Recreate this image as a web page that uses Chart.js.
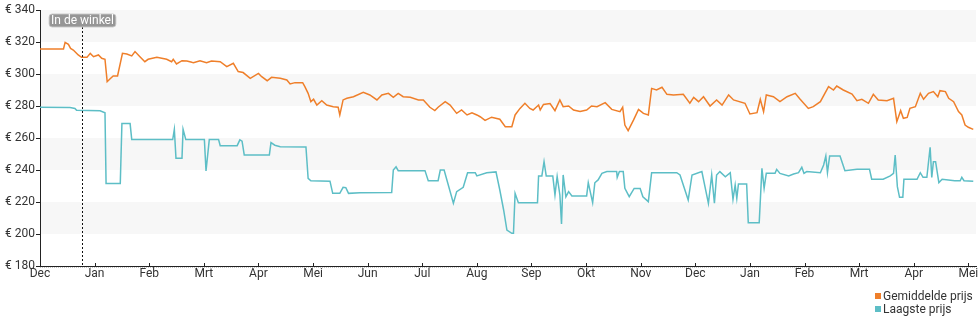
<!DOCTYPE html>
<html lang="nl">
<head>
<meta charset="utf-8">
<title>Prijsverloop</title>
<script src="https://cdn.jsdelivr.net/npm/chart.js@4.4.1/dist/chart.umd.min.js"></script>
<style>
  html, body { margin: 0; padding: 0; background: #ffffff; }
  #wrap { position: relative; width: 980px; height: 325px; font-family: Roboto, "Noto Sans", sans-serif; }
  #legend { position: absolute; left: 875px; top: 290px; font-size: 12px; color: #333; line-height: 13px; }
  #legend div { white-space: nowrap; }
  #legend span.sw { display: inline-block; width: 6px; height: 6px; margin-right: 2px; vertical-align: 1px; }
</style>
</head>
<body>
<div id="wrap">
  <canvas id="chart"></canvas>
  <div id="legend"></div>
</div>
<script>
// Month ticks along the x axis (one unit per month, starting at December)
const monthLabels = ['Dec','Jan','Feb','Mrt','Apr','Mei','Jun','Jul','Aug','Sep','Okt','Nov','Dec','Jan','Feb','Mrt','Apr','Mei'];

// Y axis range and step in euros
const priceMin = 180;
const priceMax = 340;
const priceStep = 20;

// Marker for the in-store launch date (fraction of months since December)
const storeMonth = 0.775;
const storeLabel = 'In de winkel';

// Average price (Gemiddelde prijs): position in months, price in euros
const avgMonth = [0.00,0.43,0.46,0.52,0.56,0.61,0.70,0.76,0.86,0.92,0.98,1.07,1.13,1.19,1.23,1.28,1.34,1.42,1.51,1.59,
  1.68,1.74,1.83,1.92,1.98,2.14,2.32,2.41,2.44,2.50,2.60,2.69,2.78,2.81,2.93,3.05,3.14,3.30,3.42,3.54,
  3.63,3.72,3.85,4.00,4.06,4.16,4.24,4.40,4.52,4.58,4.67,4.81,4.85,4.91,4.96,5.01,5.07,5.16,5.25,5.37,
  5.46,5.49,5.55,5.62,5.74,5.92,6.04,6.17,6.26,6.38,6.47,6.56,6.65,6.78,6.93,7.02,7.14,7.23,7.29,7.42,
  7.51,7.63,7.72,7.82,7.91,8.00,8.06,8.15,8.27,8.42,8.52,8.64,8.70,8.79,8.88,8.97,9.03,9.13,9.16,9.22,
  9.34,9.43,9.52,9.58,9.68,9.77,9.89,10.01,10.10,10.20,10.35,10.47,10.62,10.67,10.71,10.77,10.87,10.96,11.05,11.14,
  11.20,11.29,11.39,11.48,11.60,11.78,11.90,11.97,12.06,12.15,12.27,12.39,12.49,12.61,12.70,12.91,13.00,13.13,13.19,13.25,
  13.30,13.43,13.55,13.68,13.83,13.92,14.07,14.16,14.29,14.44,14.53,14.59,14.71,14.87,14.96,15.05,15.17,15.26,15.35,15.51,
  15.63,15.69,15.76,15.81,15.88,15.93,16.03,16.12,16.18,16.27,16.36,16.44,16.48,16.58,16.64,16.73,16.82,16.88,16.94,17.00,17.09];
const avgPrice = [315.6,315.6,319.8,318.5,316.0,315.0,311.9,310.4,310.4,312.9,310.8,311.9,309.8,309.2,295.2,296.9,298.8,298.8,312.9,312.5,
  311.3,314.0,310.8,307.7,309.2,310.4,309.2,307.7,309.2,306.3,308.3,308.1,307.3,307.1,308.3,307.1,308.1,307.7,304.6,306.7,
  301.5,300.9,297.3,300.4,298.3,295.8,297.9,297.3,296.3,293.8,294.6,294.6,292.1,287.9,282.7,284.2,280.6,283.3,280.6,279.6,
  279.2,274.4,283.8,284.8,285.8,288.5,286.9,283.8,286.9,287.9,285.4,287.9,285.8,285.4,283.8,283.8,279.2,277.1,279.2,282.7,
  280.6,275.4,277.5,274.4,275.8,274.4,273.3,271.0,273.0,271.7,267.1,267.1,274.4,278.5,281.7,278.5,277.5,280.6,277.5,281.0,
  281.5,277.1,283.8,279.6,280.0,277.5,276.5,277.5,280.0,279.6,282.1,277.9,276.5,279.2,268.1,264.6,271.3,277.9,275.4,274.4,
  291.0,290.0,291.7,287.3,286.9,287.3,281.7,285.4,282.7,285.8,280.0,283.8,280.6,286.9,283.8,281.7,275.0,275.8,284.2,276.5,
  286.9,285.8,282.7,285.8,287.9,284.2,278.5,279.6,282.7,292.1,290.0,292.5,290.0,287.5,283.3,284.2,281.7,287.3,283.8,283.3,
  284.8,270.2,277.1,272.3,272.9,278.5,279.6,287.9,284.2,287.9,289.0,285.8,289.6,289.0,284.8,282.7,276.5,274.4,268.1,266.7,265.4];

// Lowest price (Laagste prijs): position in months, price in euros
const lowMonth = [0.00,0.55,0.64,0.67,1.10,1.19,1.21,1.47,1.50,1.65,1.68,2.43,2.46,2.49,2.60,2.62,2.67,3.01,3.04,3.10,
  3.27,3.30,3.61,3.66,3.70,3.74,4.20,4.23,4.30,4.40,4.87,4.91,4.96,5.31,5.36,5.49,5.55,5.60,5.65,5.86,
  6.44,6.47,6.52,6.56,7.05,7.11,7.29,7.33,7.40,7.57,7.63,7.75,7.83,7.97,8.00,8.18,8.35,8.42,8.49,8.55,
  8.64,8.67,8.70,8.76,9.11,9.13,9.19,9.23,9.27,9.39,9.43,9.47,9.52,9.55,9.58,9.63,9.68,9.74,10.01,10.04,
  10.12,10.16,10.22,10.29,10.38,10.56,10.57,10.61,10.68,10.71,10.79,10.88,10.99,11.04,11.14,11.20,11.66,11.72,11.87,11.94,
  12.12,12.24,12.30,12.35,12.39,12.45,12.55,12.64,12.69,12.73,12.76,12.79,12.94,12.97,13.17,13.22,13.26,13.30,13.46,13.49,
  13.55,13.71,13.80,13.89,13.95,13.99,14.04,14.29,14.35,14.39,14.42,14.46,14.65,14.74,14.96,15.19,15.23,15.44,15.57,15.63,
  15.66,15.70,15.74,15.80,15.82,16.06,16.12,16.17,16.24,16.30,16.33,16.36,16.40,16.46,16.52,16.75,16.85,16.88,16.92,17.09];
const lowPrice = [279.2,279.0,278.5,277.3,277.0,275.8,231.5,231.5,269.0,269.0,259.0,259.0,265.4,247.3,247.3,265.4,259.0,259.0,239.4,259.0,
  259.0,255.2,255.2,258.8,258.0,249.4,249.4,257.1,255.5,254.6,254.4,234.8,233.3,233.0,225.4,225.4,229.2,229.0,225.4,225.8,
  226.0,240.0,242.0,239.6,239.6,233.3,233.3,240.0,240.0,219.2,226.5,229.2,238.3,238.3,236.3,238.3,238.8,227.5,215.0,202.5,
  200.4,200.4,225.4,219.6,219.6,236.3,236.3,245.2,236.3,236.3,224.4,236.0,224.4,206.3,236.9,223.3,226.5,223.8,223.8,232.1,
  219.6,232.0,233.8,237.9,239.0,239.0,235.4,239.0,239.0,228.5,223.3,228.5,228.5,223.3,220.2,238.3,238.3,236.9,221.3,236.9,
  239.0,219.2,236.9,219.2,236.9,239.0,235.8,238.3,221.7,230.6,222.3,231.3,231.3,207.1,207.1,241.0,228.5,237.9,237.9,240.4,
  237.9,236.3,237.5,238.3,241.7,237.9,239.0,238.3,243.1,248.8,238.3,248.8,248.8,239.6,240.4,240.4,234.2,234.2,236.3,237.9,
  249.4,229.6,222.9,222.9,234.2,234.2,238.3,235.4,235.4,254.2,235.4,245.2,245.2,232.1,234.2,233.3,233.3,235.4,233.3,232.9];

const seriesNames = ['Gemiddelde prijs', 'Laagste prijs'];
const seriesColors = ['#ef7f2a', '#5dbec6'];

const toPoints = (xs, ys) => xs.map((x, i) => ({ x: x, y: ys[i] }));

// Alternating horizontal bands behind the plot, one per y tick interval
const bandPlugin = {
  id: 'bands',
  beforeDraw(chart) {
    const { ctx, chartArea, scales } = chart;
    const y = scales.y;
    ctx.save();
    ctx.fillStyle = '#f7f7f7';
    for (let v = priceMin; v < priceMax; v += priceStep) {
      if (((v - priceMin) / priceStep) % 2 === 1) {
        const top = y.getPixelForValue(v + priceStep);
        const bottom = y.getPixelForValue(v);
        ctx.fillRect(chartArea.left, top, chartArea.right - chartArea.left, bottom - top);
      }
    }
    ctx.restore();
  }
};

// Upward month tick marks, a dotted rule under the axis and the store marker
const overlayPlugin = {
  id: 'overlay',
  afterDatasetsDraw(chart) {
    const { ctx, chartArea, scales } = chart;
    const x = scales.x;
    const axisY = chartArea.bottom;
    ctx.save();

    ctx.strokeStyle = '#222';
    ctx.lineWidth = 1;
    monthLabels.forEach((_, i) => {
      const px = Math.round(x.getPixelForValue(i)) + 0.5;
      ctx.beginPath();
      ctx.moveTo(px, axisY - 3);
      ctx.lineTo(px, axisY + 1);
      ctx.stroke();
    });

    ctx.strokeStyle = '#c4c4c4';
    ctx.setLineDash([1, 1]);
    ctx.beginPath();
    ctx.moveTo(chartArea.left, axisY + 1.5);
    ctx.lineTo(chartArea.right, axisY + 1.5);
    ctx.stroke();

    // store marker line
    const sx = Math.round(x.getPixelForValue(storeMonth)) + 0.5;
    ctx.strokeStyle = '#111';
    ctx.setLineDash([2, 2]);
    ctx.beginPath();
    ctx.moveTo(sx, chartArea.top + 17);
    ctx.lineTo(sx, axisY);
    ctx.stroke();
    ctx.setLineDash([]);

    // label box
    ctx.font = '12px Roboto, "Noto Sans", sans-serif';
    const tw = ctx.measureText(storeLabel).width;
    const bw = tw + 4;
    const bh = 13;
    const bx = sx - bw / 2;
    const by = chartArea.top + 4;
    ctx.fillStyle = 'rgba(125,125,125,0.8)';
    ctx.strokeStyle = 'rgba(200,200,200,0.9)';
    ctx.lineWidth = 1;
    ctx.beginPath();
    if (ctx.roundRect) { ctx.roundRect(bx, by, bw, bh, 3); } else { ctx.rect(bx, by, bw, bh); }
    ctx.fill();
    ctx.stroke();
    ctx.fillStyle = '#ffffff';
    ctx.textBaseline = 'middle';
    ctx.textAlign = 'center';
    ctx.fillText(storeLabel, sx, by + bh / 2 + 0.5);
    ctx.restore();
  }
};

const chart = new Chart(document.getElementById('chart'), {
  type: 'line',
  data: {
    datasets: [
      { label: seriesNames[0], data: toPoints(avgMonth, avgPrice), borderColor: seriesColors[0], backgroundColor: seriesColors[0] },
      { label: seriesNames[1], data: toPoints(lowMonth, lowPrice), borderColor: seriesColors[1], backgroundColor: seriesColors[1] }
    ]
  },
  options: {
    responsive: true,
    maintainAspectRatio: false,
    devicePixelRatio: 1,
    animation: false,
    parsing: false,
    elements: {
      point: { radius: 0, hoverRadius: 0 },
      line: { borderWidth: 1.5, tension: 0, fill: false }
    },
    layout: { padding: { top: 10, right: 4, left: 0, bottom: 0 } },
    plugins: { legend: { display: false }, tooltip: { enabled: false } },
    scales: {
      x: {
        type: 'linear',
        min: 0,
        max: 17.14,
        grid: { display: false, drawTicks: false },
        border: { display: true, color: '#222', width: 1 },
        afterBuildTicks(scale) {
          scale.ticks = monthLabels.map((_, i) => ({ value: i }));
        },
        afterFit(scale) {
          scale.height = 59;
          scale.paddingLeft = 0;
          scale.paddingRight = 0;
        },
        ticks: {
          autoSkip: false,
          maxRotation: 0,
          padding: 1,
          color: '#333',
          font: { family: 'Roboto', size: 12 },
          callback: (v) => monthLabels[v]
        }
      },
      y: {
        min: priceMin,
        max: priceMax,
        grid: { drawOnChartArea: false, drawTicks: true, tickLength: 4, color: '#222' },
        border: { display: true, color: '#222', width: 1 },
        afterFit(scale) { scale.width = 40; },
        ticks: {
          stepSize: priceStep,
          padding: 1,
          color: '#333',
          font: { family: 'Roboto', size: 12 },
          callback: (v) => '€ ' + v
        }
      }
    }
  },
  plugins: [bandPlugin, overlayPlugin]
});

// Legend entries, stacked at the bottom right
const legend = document.getElementById('legend');
seriesNames.forEach((name, i) => {
  const row = document.createElement('div');
  const sw = document.createElement('span');
  sw.className = 'sw';
  sw.style.background = seriesColors[i];
  row.appendChild(sw);
  row.appendChild(document.createTextNode(name));
  legend.appendChild(row);
});
</script>
</body>
</html>
